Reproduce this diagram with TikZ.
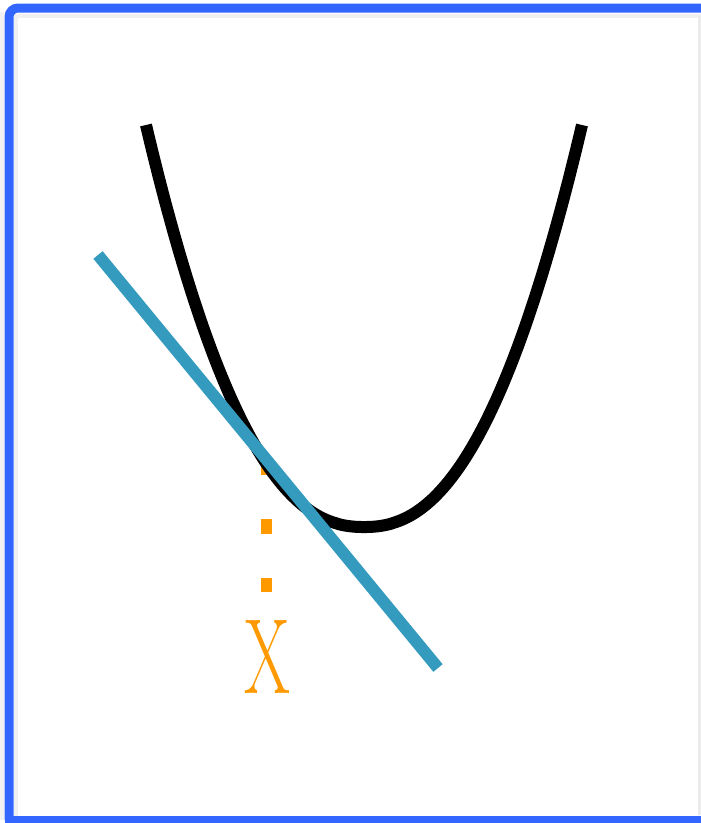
\documentclass[tikz,border=0pt]{standalone}
\usetikzlibrary{calc}
\definecolor{framebl}{RGB}{51,102,255}
\definecolor{tealln}{RGB}{52,155,190}
\definecolor{orng}{RGB}{255,153,0}
\begin{document}
\begin{tikzpicture}[x=1pt,y=-1pt,
  framestyle/.style={draw=framebl,line width=9pt,rounded corners=9pt},
  curvestyle/.style={draw=black,line width=12pt},
  tangentstyle/.style={draw=tealln,line width=12pt},
  dropstyle/.style={draw=orng,line width=11pt,dash pattern=on 15pt off 44pt},
  labelstyle/.style={text=orng,inner sep=0pt,anchor=base,font=\fontsize{107}{107}\selectfont}]
\useasboundingbox (0,0) rectangle (701,823);
\fill[white] (0,0) rectangle (701,823);
% soft shadow
\draw[black!6,line width=4pt] (16,820) -- (16,16) -- (706,16);
\draw[black!5,line width=4pt] (2,820) -- (2,12);
\draw[black!8,line width=3pt] (699,16) -- (699,815);
\draw[framestyle] (9,820) -- (9,8) -- (712,8);
\draw[framebl,line width=9pt] (5,820) -- (712,820);
% coordinates
\coordinate (dtop) at (266.5,460);
\coordinate (dbot) at (266.5,592);
\coordinate (ta) at (98,255);
\coordinate (tb) at (438,668);
% orange dotted drop
\draw[dropstyle] (dtop) -- (dbot);
% black curve
\draw[curvestyle] plot[domain=-218:218,samples=161,smooth]
  ({\x+364},{527-402*pow(abs(\x)/218+0.00001,2.3)});
% tangent line
\draw[tangentstyle] (ta) -- (tb);
% label
\node[labelstyle,xscale=0.62] (xl) at (267,693) {X};
\end{tikzpicture}
\end{document}
